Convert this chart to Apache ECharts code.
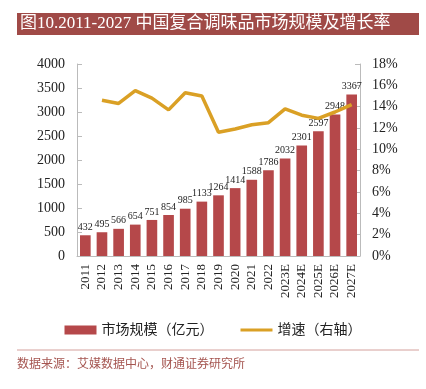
<!DOCTYPE html>
<html><head><meta charset="utf-8">
<script src="https://cdn.jsdelivr.net/npm/echarts@6/dist/echarts.min.js"></script>
<style>html,body{margin:0;padding:0;background:#fff;}#c{width:426px;height:389px;}</style>
</head><body><div id="c"></div>
<script>
const categories = ['2011','2012','2013','2014','2015','2016','2017','2018','2019','2020','2021','2022','2023E','2024E','2025E','2026E','2027E'];
const marketSize = [432,495,566,654,751,854,985,1133,1264,1414,1588,1786,2032,2301,2597,2948,3367];
const growth = [null,14.6,14.3,15.5,14.8,13.7,15.3,15.0,11.6,11.9,12.3,12.5,13.8,13.2,12.9,13.5,14.2];
const barName = '市场规模（亿元）';
const lineName = '增速（右轴）';
const titleText = '图10.2011-2027 中国复合调味品市场规模及增长率';
const sourceText = '数据来源：艾媒数据中心，财通证券研究所';

const serif = '"Liberation Serif", "Noto Sans CJK SC", serif';
const chart = echarts.init(document.getElementById('c'), null, {renderer:'canvas'});
chart.setOption({
  animation:false,
  graphic:[
    {type:'rect', shape:{x:17,y:13,width:402,height:22}, style:{fill:'#A04A47'}},
    {type:'text', left:20, top:15, style:{text:titleText, fill:'#fff', font:'17px '+serif}},
    {type:'line', shape:{x1:17,y1:350,x2:419,y2:350}, style:{stroke:'#D4A09C', lineWidth:1}},
    {type:'text', left:17, top:359, style:{text:sourceText, fill:'#A55550', font:'12px '+serif}}
  ],
  legend:{
    top:318, left:'center', itemGap:27, itemWidth:32, itemHeight:9,
    textStyle:{fontFamily:serif, fontSize:14, color:'#222'},
    data:[{name:barName, icon:'rect'},
          {name:lineName, icon:'path://M0,0 L0.01,0 M0,3 L32,3 L32,6 L0,6 Z M0,9 L0.01,9'}]
  },
  grid:{left:77, right:66, top:64, bottom:133},
  xAxis:{
    type:'category', data:categories,
    axisLine:{lineStyle:{color:'#bbb'}}, axisTick:{show:false},
    axisLabel:{rotate:90, fontFamily:serif, fontSize:13, color:'#222', interval:0, margin:8}
  },
  yAxis:[
    {type:'value', min:0, max:4000, interval:500, splitLine:{show:false},
     axisLine:{show:true, lineStyle:{color:'#bbb'}}, axisTick:{show:true, inside:true, lineStyle:{color:'#bbb'}},
     axisLabel:{fontFamily:serif, fontSize:14, color:'#222', margin:12, formatter:function(v){return String(v);}}},
    {type:'value', min:0, max:18, interval:2, splitLine:{show:false},
     axisLine:{show:true, lineStyle:{color:'#bbb'}}, axisTick:{show:true, inside:true, lineStyle:{color:'#bbb'}},
     axisLabel:{fontFamily:serif, fontSize:14, color:'#222', formatter:'{value}%', margin:12}}
  ],
  series:[
    {name:barName, type:'bar', data:marketSize, barWidth:'64%', itemStyle:{color:'#B5484A'},
     label:{show:true, position:'top', fontFamily:serif, fontSize:10, color:'#222', distance:3}},
    {name:lineName, type:'line', yAxisIndex:1, data:growth, symbol:'none', connectNulls:false,
     lineStyle:{color:'#DAA025', width:3.5}, itemStyle:{color:'#DAA025'}}
  ]
});
</script></body></html>
